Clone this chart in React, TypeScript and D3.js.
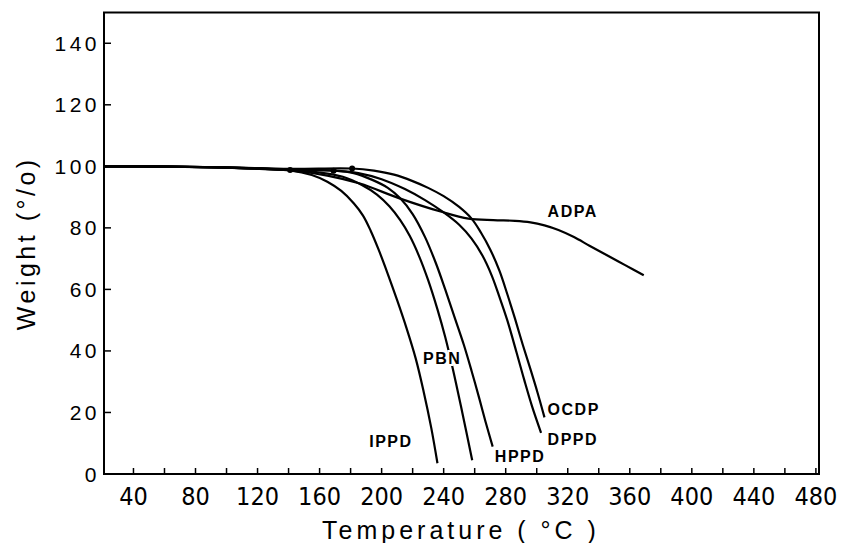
import React from "react";
import * as d3 from "d3";

// TGA curves, weight (%) vs temperature (°C)
const IPPD = [[21, 100], [60, 99.9], [100, 99.6], [141, 98.7], [155, 97.2], [165, 95], [174, 92], [182, 88], [188, 84], [193, 79], [198, 73], [204, 65], [210, 56.5], [216, 47.5], [222, 37.5], [227, 27], [232, 15], [236, 3.5]];
const PBN = [[21, 100], [60, 99.9], [100, 99.6], [141, 98.8], [160, 98], [175, 96.6], [187, 94], [197, 90.8], [205, 87], [212, 82.5], [218, 77.5], [224, 71], [230, 63], [236, 53.5], [241, 44.5], [246, 34], [252, 20], [258.4, 4.5]];
const HPPD = [[21, 100], [60, 99.9], [100, 99.6], [141, 98.9], [169, 98.6], [182, 97.8], [194, 95.6], [204, 93], [212, 89.6], [220, 84.5], [228, 77], [235, 68.5], [241, 60], [247, 51], [253, 42], [258, 33.5], [263, 24.5], [267, 17], [271.6, 8.9]];
const DPPD = [[21, 100], [60, 99.9], [100, 99.6], [141, 98.8], [169, 98.6], [185, 97.8], [200, 95.8], [215, 92.6], [228, 89], [240, 85], [250, 81], [258, 76.5], [265, 71], [271, 64.5], [276, 57.5], [281, 50], [287, 39.5], [292, 30.5], [297, 22], [302.8, 13.4]];
const OCDP = [[21, 100], [60, 99.9], [100, 99.7], [141, 99.2], [181, 99.3], [195, 98.6], [208, 97.3], [220, 95.2], [230, 93], [240, 90.3], [250, 86.8], [258, 83], [264, 78.5], [270, 73], [276, 66], [281, 58.5], [286, 50.5], [291, 42], [296, 34], [300.5, 26.5], [305, 18.4]];
const ADPA = [[21, 100], [60, 99.9], [100, 99.6], [141, 98.7], [165, 97], [186, 94.4], [212, 89.5], [238, 85.3], [256, 83], [272, 82.5], [286, 82.3], [296, 81.8], [305, 80.8], [314, 79.3], [324, 77], [334, 74.2], [345, 71.2], [357, 67.9], [369, 64.6]];

const series = [IPPD, PBN, HPPD, DPPD, OCDP, ADPA];
const dots = [[141, 98.8], [169, 98.6], [181, 99.3]];

const curveLabels = ["IPPD", "PBN", "HPPD", "DPPD", "OCDP", "ADPA"];
const labelAt = [[206, 8.8], [239, 35.7], [273, 3.9], [307, 9.4], [307, 19.2], [307, 83.5]];

const xTicks = d3.range(40, 481, 20);
const xLabels = d3.range(40, 481, 40);
const yTicks = d3.range(0, 141, 20);

const W = 845;
const H = 543;

export default function App() {
  const x = d3.scaleLinear().domain([21, 482]).range([104, 819]);
  const y = d3.scaleLinear().domain([0, 150]).range([474, 12.5]);
  const line = d3
    .line<number[]>()
    .x(d => x(d[0]))
    .y(d => y(d[1]))
    .curve(d3.curveCatmullRom.alpha(0.5));

  const [x0, x1] = x.range();
  const [y0, y1] = y.range();

  return (
    <svg width={W} height={H} style={{ position: "absolute", left: 0, top: 0, background: "#fff" }}>
      <rect x={x0} y={y1} width={x1 - x0} height={y0 - y1} fill="none" stroke="#000" strokeWidth={2} />
      {xTicks.map(t => (
        <line key={"xt" + t} x1={x(t)} x2={x(t)} y1={y0} y2={y0 - 6} stroke="#000" strokeWidth={1.5} />
      ))}
      {yTicks.map(t => (
        <line key={"yt" + t} x1={x0} x2={x0 + 7} y1={y(t)} y2={y(t)} stroke="#000" strokeWidth={1.5} />
      ))}
      {xLabels.map(t => (
        <text key={"xl" + t} x={x(t)} y={505} textAnchor="middle" fontFamily="'Liberation Sans Narrow', 'DejaVu Sans Condensed', 'Liberation Sans', sans-serif" fontSize={25}>
          {t}
        </text>
      ))}
      {yTicks.map(t => (
        <text key={"yl" + t} x={100} y={y(t)} dy="0.36em" textAnchor="end" fontFamily="'Liberation Sans', sans-serif" fontSize={21} letterSpacing={3.5}>
          {t}
        </text>
      ))}
      <text x={461} y={539} textAnchor="middle" fontFamily="'Liberation Sans', sans-serif" fontSize={25} letterSpacing={4}>
        Temperature ( °C )
      </text>
      <text transform={`translate(35,${(y0 + y1) / 2}) rotate(-90)`} textAnchor="middle" fontFamily="'Liberation Sans', sans-serif" fontSize={25} letterSpacing={3.5}>
        Weight (°/o)
      </text>
      {series.map((s, i) => (
        <path key={"s" + i} d={line(s) || ""} fill="none" stroke="#000" strokeWidth={2.2} />
      ))}
      {dots.map((d, i) => (
        <circle key={"d" + i} cx={x(d[0])} cy={y(d[1])} r={3} fill="#000" />
      ))}
      {curveLabels.map((c, i) => (
        <text key={c} x={x(labelAt[i][0])} y={y(labelAt[i][1])} textAnchor={i < 2 ? "middle" : "start"} fontFamily="'Liberation Sans', sans-serif" fontWeight="bold" fontSize={16} letterSpacing={1.5} stroke="#fff" strokeWidth={4} paintOrder="stroke" fill="#000">
          {c}
        </text>
      ))}
    </svg>
  );
}
